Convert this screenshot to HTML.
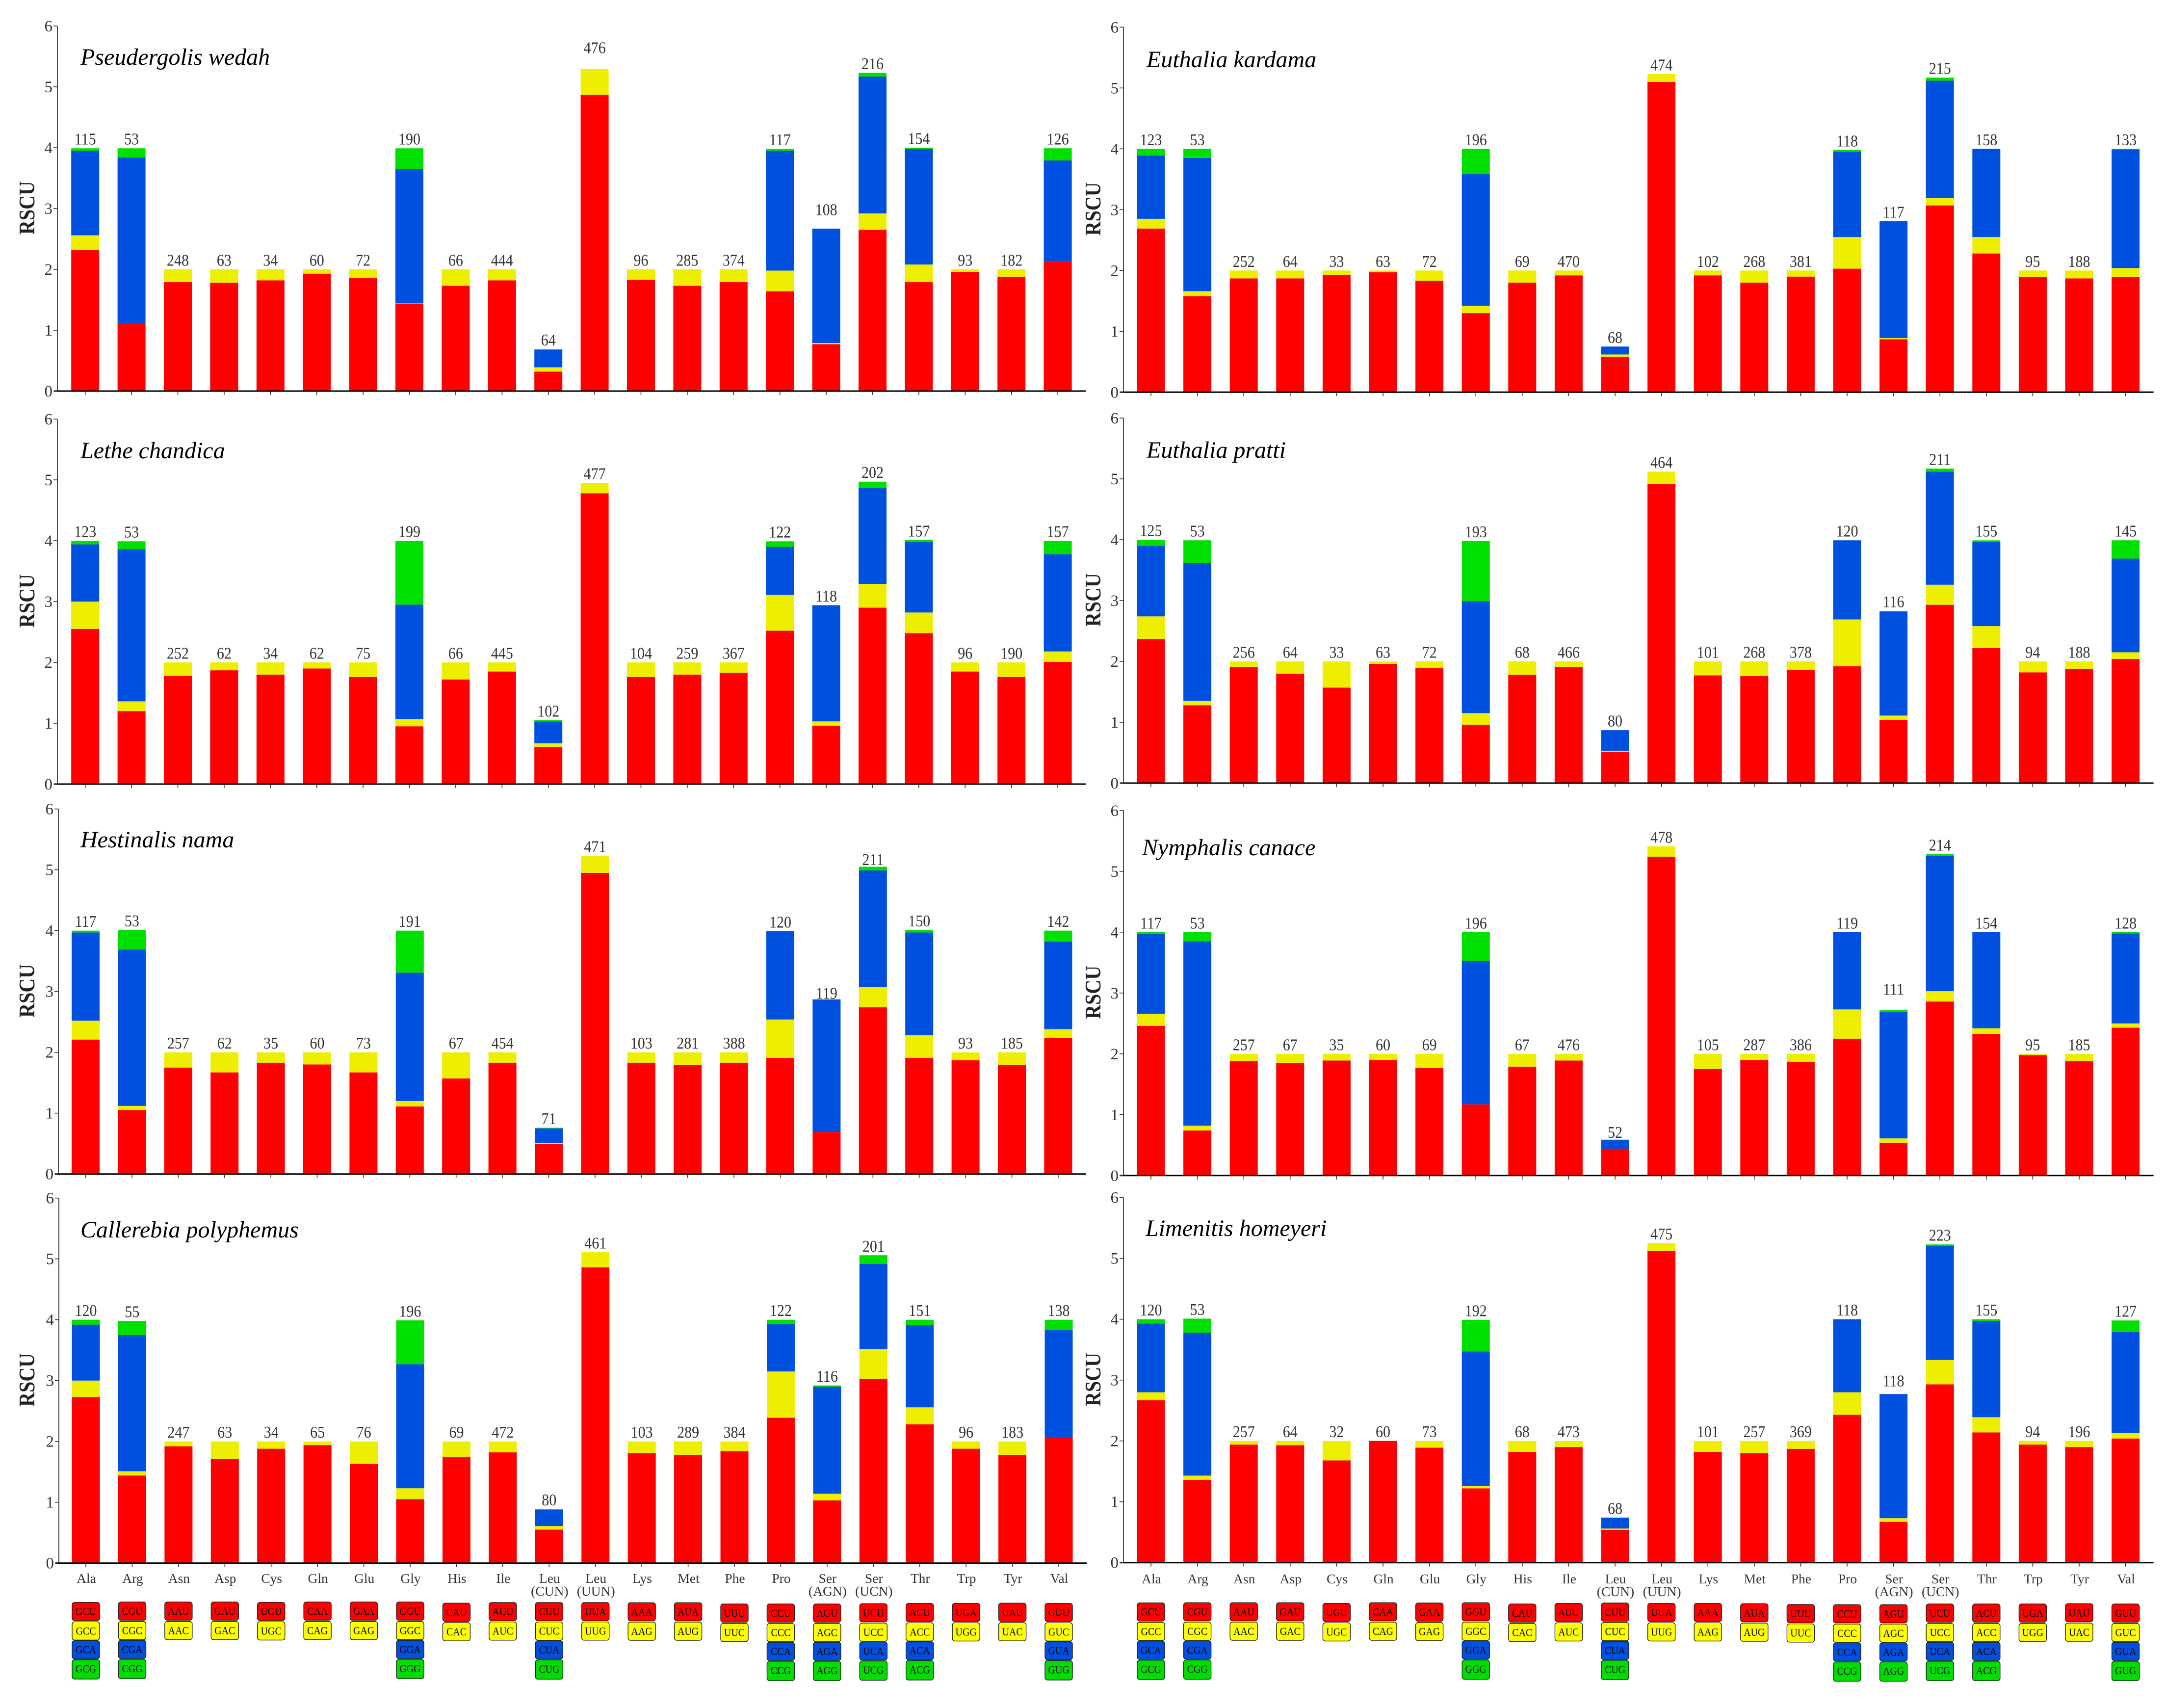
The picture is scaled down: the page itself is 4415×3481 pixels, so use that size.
<!DOCTYPE html>
<html lang="en">
<head>
<meta charset="utf-8">
<title>RSCU of mitochondrial codons in eight butterfly species</title>
<style>
html,body{margin:0;padding:0;background:#fff;}
svg{display:block;}
text{font-family:"Liberation Serif","Times New Roman",serif;}
</style>
</head>
<body>
<svg id="chart" xmlns="http://www.w3.org/2000/svg" width="4415" height="3481" viewBox="0 0 4415 3481"></svg>
<script>
const categories = ['Ala','Arg','Asn','Asp','Cys','Gln','Glu','Gly','His','Ile','Leu\n(CUN)','Leu\n(UUN)','Lys','Met','Phe','Pro','Ser\n(AGN)','Ser\n(UCN)','Thr','Trp','Tyr','Val'];
const yTicks = [0,1,2,3,4,5,6];
const codons = [
  ['GCU','GCC','GCA','GCG'],['CGU','CGC','CGA','CGG'],['AAU','AAC'],['GAU','GAC'],['UGU','UGC'],['CAA','CAG'],['GAA','GAG'],
  ['GGU','GGC','GGA','GGG'],['CAU','CAC'],['AUU','AUC'],['CUU','CUC','CUA','CUG'],['UUA','UUG'],['AAA','AAG'],['AUA','AUG'],
  ['UUU','UUC'],['CCU','CCC','CCA','CCG'],['AGU','AGC','AGA','AGG'],['UCU','UCC','UCA','UCG'],['ACU','ACC','ACA','ACG'],
  ['UGA','UGG'],['UAU','UAC'],['GUU','GUC','GUA','GUG']
];

const p1Counts = [115,53,248,63,34,60,72,190,66,444,64,476,96,285,374,117,108,216,154,93,182,126];
const p1Red    = [2.32,1.12,1.79,1.78,1.82,1.93,1.86,1.43,1.73,1.82,.32,4.87,1.83,1.73,1.79,1.64,.77,2.65,1.79,1.96,1.88,2.13];
const p1Yellow = [.24,0,.21,.22,.18,.07,.14,.01,.27,.18,.07,.42,.17,.27,.21,.34,.02,.27,.29,.04,.12,0];
const p1Blue   = [1.39,2.72,0,0,0,0,0,2.21,0,0,.29,0,0,0,0,1.97,1.88,2.25,1.90,0,0,1.66];
const p1Green  = [.04,.15,0,0,0,0,0,.34,0,0,.01,0,0,0,0,.03,0,.06,.02,0,0,.20];

const p2Counts = [123,53,252,64,33,63,72,196,69,470,68,474,102,268,381,118,117,215,158,95,188,133];
const p2Red    = [2.69,1.58,1.87,1.87,1.93,1.97,1.83,1.30,1.80,1.92,.58,5.10,1.92,1.80,1.90,2.03,.87,3.07,2.28,1.89,1.87,1.89];
const p2Yellow = [.16,.08,.13,.13,.07,.03,.17,.12,.20,.08,.04,.13,.08,.20,.10,.52,.02,.12,.27,.11,.13,.15];
const p2Blue   = [1.04,2.19,0,0,0,0,0,2.17,0,0,.13,0,0,0,0,1.40,1.92,1.93,1.45,0,0,1.95];
const p2Green  = [.11,.15,0,0,0,0,0,.41,0,0,0,0,0,0,0,.03,0,.05,0,0,0,.01];

const p3Counts = [123,53,252,62,34,62,75,199,66,445,102,477,104,259,367,122,118,202,157,96,190,157];
const p3Red    = [2.55,1.20,1.78,1.87,1.80,1.90,1.76,.95,1.72,1.85,.61,4.78,1.76,1.80,1.83,2.52,.96,2.90,2.48,1.85,1.76,2.01];
const p3Yellow = [.45,.16,.22,.13,.20,.10,.24,.12,.28,.15,.06,.17,.24,.20,.17,.59,.07,.39,.34,.15,.24,.17];
const p3Blue   = [.94,2.50,0,0,0,0,0,1.88,0,0,.36,0,0,0,0,.79,1.91,1.58,1.16,0,0,1.60];
const p3Green  = [.06,.13,0,0,0,0,0,1.05,0,0,.02,0,0,0,0,.09,0,.10,.03,0,0,.22];

const p4Counts = [125,53,256,64,33,63,72,193,68,466,80,464,101,268,378,120,116,211,155,94,188,145];
const p4Red    = [2.37,1.28,1.91,1.80,1.57,1.96,1.89,.96,1.78,1.91,.51,4.92,1.77,1.76,1.86,1.92,1.04,2.93,2.22,1.82,1.88,2.04];
const p4Yellow = [.37,.07,.09,.20,.43,.04,.11,.19,.22,.09,.02,.20,.23,.24,.14,.77,.07,.33,.36,.18,.12,.11];
const p4Blue   = [1.16,2.27,0,0,0,0,0,1.84,0,0,.34,0,0,0,0,1.30,1.71,1.86,1.38,0,0,1.54];
const p4Green  = [.10,.37,0,0,0,0,0,.99,0,0,0,0,0,0,0,0,.01,.05,.03,0,0,.30];

const p5Counts = [117,53,257,62,35,60,73,191,67,454,71,471,103,281,388,120,119,211,150,93,185,142];
const p5Red    = [2.21,1.05,1.75,1.67,1.83,1.80,1.67,1.11,1.57,1.83,.49,4.95,1.83,1.79,1.83,1.91,.69,2.74,1.91,1.87,1.79,2.24];
const p5Yellow = [.31,.07,.25,.33,.17,.20,.33,.09,.43,.17,.02,.28,.17,.21,.17,.63,0,.33,.37,.13,.21,.14];
const p5Blue   = [1.45,2.57,0,0,0,0,0,2.11,0,0,.24,0,0,0,0,1.45,2.18,1.92,1.69,0,0,1.44];
const p5Green  = [.03,.32,0,0,0,0,0,.69,0,0,.01,0,0,0,0,0,0,.06,.04,0,0,.18];

const p6Counts = [117,53,257,67,35,60,69,196,67,476,52,478,105,287,386,119,111,214,154,95,185,128];
const p6Red    = [2.46,.74,1.88,1.85,1.89,1.90,1.77,1.17,1.79,1.89,.44,5.24,1.75,1.90,1.87,2.25,.54,2.86,2.33,1.98,1.88,2.43];
const p6Yellow = [.20,.08,.12,.15,.11,.10,.23,0,.21,.11,0,.17,.25,.10,.13,.48,.07,.17,.09,.02,.12,.07];
const p6Blue   = [1.31,3.03,0,0,0,0,0,2.36,0,0,.14,0,0,0,0,1.27,2.08,2.22,1.58,0,0,1.48];
const p6Green  = [.03,.15,0,0,0,0,0,.47,0,0,.01,0,0,0,0,0,.03,.03,0,0,0,.02];

const p7Counts = [120,55,247,63,34,65,76,196,69,472,80,461,103,289,384,122,116,201,151,96,183,138];
const p7Red    = [2.73,1.44,1.92,1.71,1.88,1.94,1.63,1.05,1.74,1.82,.55,4.86,1.81,1.78,1.84,2.39,1.03,3.03,2.28,1.88,1.78,2.07];
const p7Yellow = [.27,.07,.08,.29,.12,.06,.37,.18,.26,.18,.06,.25,.19,.22,.16,.76,.11,.49,.28,.12,.22,0];
const p7Blue   = [.92,2.24,0,0,0,0,0,2.04,0,0,.26,0,0,0,0,.78,1.76,1.40,1.35,0,0,1.76];
const p7Green  = [.08,.23,0,0,0,0,0,.72,0,0,.02,0,0,0,0,.07,.02,.14,.09,0,0,.17];

const p8Counts = [120,53,257,64,32,60,73,192,68,473,68,475,101,257,369,118,118,223,155,94,196,127];
const p8Red    = [2.67,1.36,1.94,1.93,1.68,2.00,1.89,1.22,1.82,1.90,.54,5.12,1.82,1.80,1.87,2.43,.67,2.93,2.14,1.94,1.90,2.04];
const p8Yellow = [.13,.07,.06,.07,.32,0,.11,.04,.18,.10,.02,.13,.18,.20,.13,.37,.06,.40,.25,.06,.10,.09];
const p8Blue   = [1.13,2.35,0,0,0,0,0,2.21,0,0,.18,0,0,0,0,1.20,2.04,1.88,1.58,0,0,1.66];
const p8Green  = [.07,.23,0,0,0,0,0,.52,0,0,0,0,0,0,0,0,0,.02,.03,0,0,.19];

const speciesNames = ['Pseudergolis wedah','Euthalia kardama','Lethe chandica','Euthalia pratti','Hestinalis nama','Nymphalis canace','Callerebia polyphemus','Limenitis homeyeri'];
const countsBySpecies = [p1Counts,p2Counts,p3Counts,p4Counts,p5Counts,p6Counts,p7Counts,p8Counts];
const redBySpecies    = [p1Red,p2Red,p3Red,p4Red,p5Red,p6Red,p7Red,p8Red];
const yellowBySpecies = [p1Yellow,p2Yellow,p3Yellow,p4Yellow,p5Yellow,p6Yellow,p7Yellow,p8Yellow];
const blueBySpecies   = [p1Blue,p2Blue,p3Blue,p4Blue,p5Blue,p6Blue,p7Blue,p8Blue];
const greenBySpecies  = [p1Green,p2Green,p3Green,p4Green,p5Green,p6Green,p7Green,p8Green];

/* layout only */
const layout = [
  {x0:173.7, step:94.4,  axis:117,  zero:797,    titleX:164,  titleY:132,  rscuX:57},
  {x0:2346,  step:94.6,  axis:2290, zero:799.3,  titleX:2337, titleY:137,  rscuX:2230},
  {x0:173.7, step:94.4,  axis:117,  zero:1598,   titleX:164,  titleY:934,  rscuX:57},
  {x0:2346,  step:94.6,  axis:2290, zero:1596,   titleX:2337, titleY:933,  rscuX:2230},
  {x0:174.5, step:94.4,  axis:119,  zero:2392.7, titleX:164,  titleY:1727, rscuX:57},
  {x0:2346,  step:94.6,  axis:2290, zero:2395.8, titleX:2328, titleY:1743, rscuX:2230},
  {x0:175,   step:94.43, axis:120,  zero:3185.7, titleX:164,  titleY:2522, rscuX:57},
  {x0:2346,  step:94.6,  axis:2290, zero:3184.7, titleX:2335, titleY:2519, rscuX:2230}
];
/* extra pixel gap between a bar top and its count label, keyed "panel:bar" */
const LABEL_GAP = {'0:11':25,'0:16':20,'4:16':-6,'5:16':24,'5:10':-4,'7:16':8,'4:17':-4};
const UNIT = 124, BAR_W = 57;
const SEG_COLORS = ['#ff0000','#eeee00','#0050e0','#00e000'];
const BOX_COLORS = ['#ff0000','#ffff00','#0050e0','#00dd00'];
const BOX_OFFSETS = [0,39.6,78,116.8];
const BOX_TOPS_LEFT  = [3265.7,3265,3265,3265,3265.7,3265,3265,3265,3267.3,3266,3266,3266,3266.3,3266.3,3269,3269,3269,3268.3,3267.7,3267.7,3267.3,3267.7];
const BOX_TOPS_RIGHT = [3266.7,3266.3,3266.3,3266.3,3267.7,3266.3,3267,3266.3,3269,3267.7,3267,3267.7,3267.7,3268.3,3270,3270.3,3270.3,3269,3269,3269,3268.3,3269];

const NS = 'http://www.w3.org/2000/svg';
const svg = document.getElementById('chart');
function mk(tag, attrs, parent){
  const el = document.createElementNS(NS, tag);
  for (const k in attrs) el.setAttribute(k, attrs[k]);
  (parent || svg).appendChild(el);
  return el;
}
function yScale(v, L){ return L.zero - v * UNIT; }
function xScale(i, L){ return L.x0 + i * L.step; }

speciesNames.forEach(function(name, p){
  const L = layout[p];
  const g = mk('g', {});
  
  

  const series = [redBySpecies[p], yellowBySpecies[p], blueBySpecies[p], greenBySpecies[p]];
  const counts = countsBySpecies[p];

  categories.forEach(function(cat, i){
    let acc = 0;
    series.forEach(function(vals, s){
      const v = vals[i];
      if (v > 0) {
        const top = yScale(acc + v, L), bot = yScale(acc, L);
        const bar = mk('rect', {x:xScale(i,L)-BAR_W/2, y:top, width:BAR_W, height:bot-top, fill:SEG_COLORS[s]}, g);
        
        
      }
      acc += v;
    });
    const gap = 7.5 + (LABEL_GAP[p + ':' + i] || 0);
    const lab = mk('text', {transform:'translate(' + xScale(i,L) + ',' + (yScale(acc,L)-gap) + ') scale(1,1.14)', 'font-size':30, fill:'#333', 'text-anchor':'middle'}, g);
    lab.textContent = counts[i];
    
    

    const tk = mk('line', {x1:xScale(i,L), x2:xScale(i,L), y1:L.zero, y2:L.zero+8, stroke:'#333', 'stroke-width':1.6}, g);
    
    
  });

  const yAxis = mk('line', {x1:L.axis, x2:L.axis, y1:yScale(6,L), y2:L.zero, stroke:'#333', 'stroke-width':1.8}, g);
  
  

  const xAxis = mk('line', {x1:L.axis-7, x2:xScale(21,L)+57, y1:L.zero, y2:L.zero, stroke:'#000', 'stroke-width':3}, g);
  
  

  yTicks.forEach(function(t){
    const tk = mk('line', {x1:L.axis-8, x2:L.axis, y1:yScale(t,L), y2:yScale(t,L), stroke:'#333', 'stroke-width':1.6}, g);
    
    
    const tl = mk('text', {x:L.axis-10, y:yScale(t,L)+11, 'font-size':33, fill:'#333', 'text-anchor':'end'}, g);
    tl.textContent = t;
    
    
  });

  const ylab = mk('text', {transform:'translate('+(L.rscuX+13)+','+(yScale(3,L)+53)+') rotate(-90) scale(1,1.15)', 'font-size':40, 'font-weight':'bold', fill:'#222', 'text-anchor':'start'}, g);
  ylab.textContent = 'RSCU';
  
  

  const title = mk('text', {x:L.titleX, y:L.titleY, 'font-size':48, 'font-style':'italic', fill:'#000'}, g);
  title.textContent = name;
  
  

  if (p >= 6) {
    const tops = p === 6 ? BOX_TOPS_LEFT : BOX_TOPS_RIGHT;
    categories.forEach(function(cat, i){
      const cx = xScale(i, L);
      const parts = cat.split('\n');
      parts.forEach(function(part, k){
        const t = mk('text', {x:cx + 1, y:(p === 6 ? 3226 : 3227) + k*26, 'font-size':27.5, fill:'#333', 'text-anchor':'middle'}, g);
        t.textContent = part;
        
        
      });
      codons[i].forEach(function(c, k){
        const by = tops[i] + BOX_OFFSETS[k];
        const box = mk('rect', {x:cx-28, y:by, width:56, height:k === 3 ? 39.5 : 37.2, rx:5, ry:5, fill:BOX_COLORS[k], stroke:'#222', 'stroke-width':1.4}, g);
        
        
        const ct = mk('text', {transform:'translate(' + cx + ',' + (by+26) + ') scale(1,1.12)', 'font-size':20, fill:'#000', 'text-anchor':'middle'}, g);
        ct.textContent = c;
        
        
      });
    });
  }
});
</script>
</body>
</html>
